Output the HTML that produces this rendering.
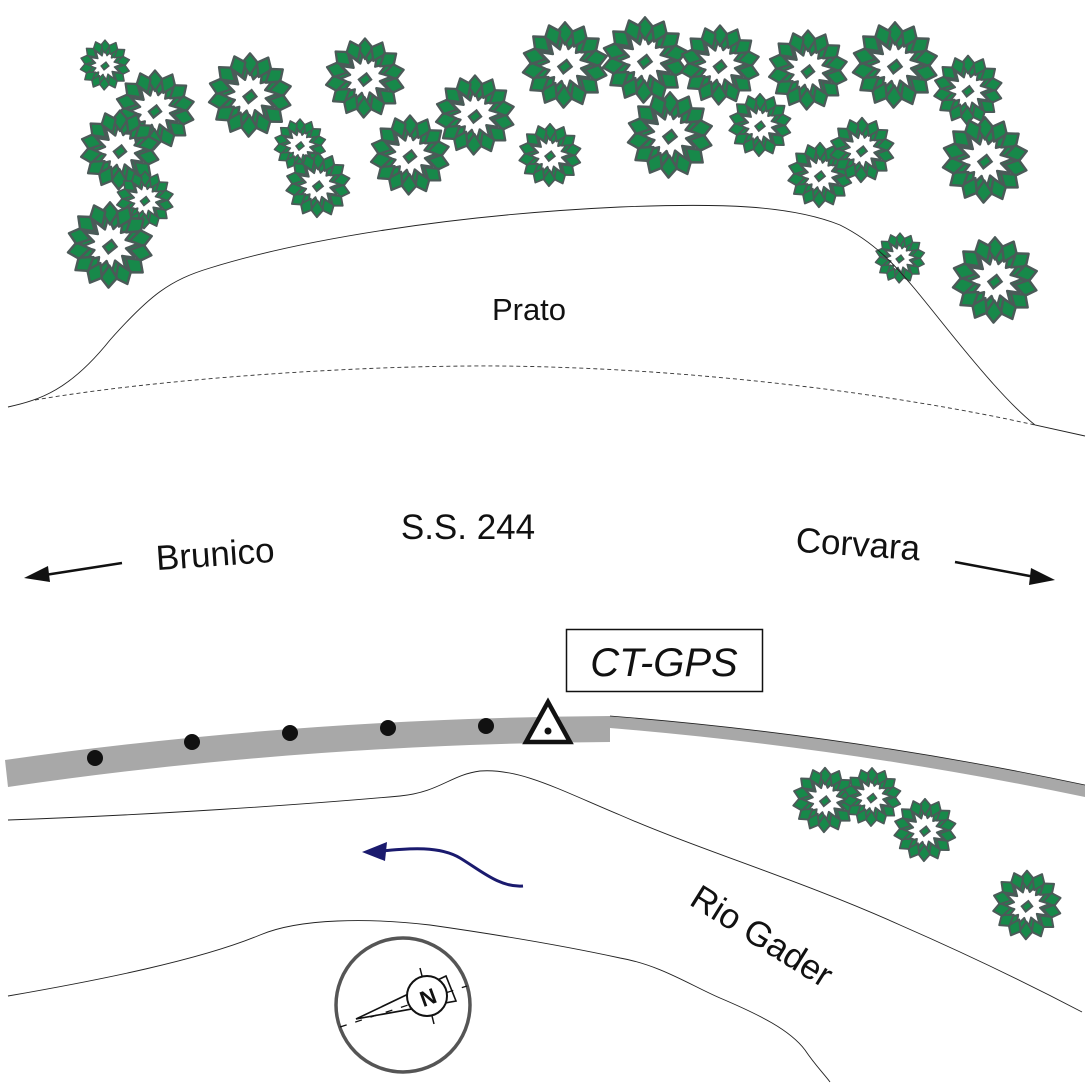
<!DOCTYPE html>
<html><head><meta charset="utf-8"><style>
html,body{margin:0;padding:0;background:#fff;}
svg{display:block;}
text{font-family:"Liberation Sans",sans-serif;fill:#111;}
</style></head><body>
<svg width="1086" height="1085" viewBox="0 0 1086 1085" xmlns="http://www.w3.org/2000/svg">
<defs>
<polygon id="lf" points="0,-52 10,-40 0,-25 -10,-40" fill="#17894a" stroke="#4b5a58" stroke-width="3" stroke-linejoin="round"/>
<polygon id="lf2" points="0,-42 8,-32 0,-20 -8,-32" fill="#17894a" stroke="#4b5a58" stroke-width="3" stroke-linejoin="round"/>
<g id="tree">
<use href="#lf2" transform="rotate(12)"/><use href="#lf2" transform="rotate(42)"/><use href="#lf2" transform="rotate(72)"/><use href="#lf2" transform="rotate(102)"/><use href="#lf2" transform="rotate(132)"/><use href="#lf2" transform="rotate(162)"/><use href="#lf2" transform="rotate(192)"/><use href="#lf2" transform="rotate(222)"/><use href="#lf2" transform="rotate(252)"/><use href="#lf2" transform="rotate(282)"/><use href="#lf2" transform="rotate(312)"/><use href="#lf2" transform="rotate(342)"/>
<use href="#lf" transform="rotate(0)"/><use href="#lf" transform="rotate(26)"/><use href="#lf" transform="rotate(52)"/><use href="#lf" transform="rotate(78)"/><use href="#lf" transform="rotate(104)"/><use href="#lf" transform="rotate(130)"/><use href="#lf" transform="rotate(156)"/><use href="#lf" transform="rotate(182)"/><use href="#lf" transform="rotate(208)"/><use href="#lf" transform="rotate(234)"/><use href="#lf" transform="rotate(260)"/><use href="#lf" transform="rotate(286)"/><use href="#lf" transform="rotate(312)"/><use href="#lf" transform="rotate(338)"/>
<polygon points="-8,2 2,-6 8,2 -2,10" fill="#17894a" stroke="#4b5a58" stroke-width="3"/>
</g>
</defs>

<g>
<use href="#tree" transform="translate(105,65) scale(0.48)"/>
<use href="#tree" transform="translate(155,110) scale(0.76)"/>
<use href="#tree" transform="translate(120,150) scale(0.76)"/>
<use href="#tree" transform="translate(145,200) scale(0.55)"/>
<use href="#tree" transform="translate(110,245) scale(0.82)"/>
<use href="#tree" transform="translate(250,95) scale(0.8)"/>
<use href="#tree" transform="translate(300,145) scale(0.5)"/>
<use href="#tree" transform="translate(318,185) scale(0.62)"/>
<use href="#tree" transform="translate(365,78) scale(0.76)"/>
<use href="#tree" transform="translate(410,155) scale(0.76)"/>
<use href="#tree" transform="translate(475,115) scale(0.76)"/>
<use href="#tree" transform="translate(565,65) scale(0.82)"/>
<use href="#tree" transform="translate(550,155) scale(0.6)"/>
<use href="#tree" transform="translate(645,60) scale(0.82)"/>
<use href="#tree" transform="translate(670,135) scale(0.82)"/>
<use href="#tree" transform="translate(720,65) scale(0.76)"/>
<use href="#tree" transform="translate(760,125) scale(0.6)"/>
<use href="#tree" transform="translate(808,70) scale(0.76)"/>
<use href="#tree" transform="translate(820,175) scale(0.62)"/>
<use href="#tree" transform="translate(862,150) scale(0.62)"/>
<use href="#tree" transform="translate(895,65) scale(0.82)"/>
<use href="#tree" transform="translate(968,90) scale(0.66)"/>
<use href="#tree" transform="translate(985,160) scale(0.82)"/>
<use href="#tree" transform="translate(900,258) scale(0.48)"/>
<use href="#tree" transform="translate(995,280) scale(0.82)"/>
<use href="#tree" transform="translate(825,800) scale(0.62)"/>
<use href="#tree" transform="translate(872,797) scale(0.56)"/>
<use href="#tree" transform="translate(925,830) scale(0.6)"/>
<use href="#tree" transform="translate(1027,905) scale(0.66)"/>
</g>

<path d="M8,407 C40,400 70,390 110,340 C150,295 170,280 210,268 C300,240 450,215 620,207 C720,203 790,205 840,225 C880,245 900,270 940,320 C980,370 1010,405 1035,425 L1085,436" fill="none" stroke="#222" stroke-width="0.9"/>
<path d="M35,400 C150,380 350,365 500,366 C700,368 900,395 1035,425" fill="none" stroke="#333" stroke-width="0.9" stroke-dasharray="4,3"/>
<text x="529" y="320" font-size="31" text-anchor="middle">Prato</text>

<text x="215" y="566" font-size="35" text-anchor="middle" transform="rotate(-4 215 552)">Brunico</text>
<text x="468" y="539" font-size="35" text-anchor="middle">S.S. 244</text>
<text x="858" y="556" font-size="35" text-anchor="middle" transform="rotate(4 858 545)">Corvara</text>
<line x1="122" y1="563" x2="45" y2="575" stroke="#111" stroke-width="2.5"/>
<polygon points="24,578 48,566 50,582" fill="#111"/>
<line x1="955" y1="562" x2="1035" y2="577" stroke="#111" stroke-width="2.5"/>
<polygon points="1055,580 1031,568 1029,585" fill="#111"/>

<path d="M5,760 Q300,718 610,716 L610,742 Q300,744 8,787 Z" fill="#a8a8a8"/>
<path d="M610,716 Q850,735 1085,785 L1085,797 Q850,748 610,728 Z" fill="#a8a8a8"/>
<path d="M610,716 Q850,735 1085,785" fill="none" stroke="#222" stroke-width="0.8"/>
<g fill="#111">
<circle cx="95" cy="758" r="8"/><circle cx="192" cy="742" r="8"/><circle cx="290" cy="733" r="8"/><circle cx="388" cy="728" r="8"/><circle cx="486" cy="726" r="8"/>
</g>
<polygon points="548,702 526,742 570,742" fill="#fff" stroke="#111" stroke-width="4.5" stroke-linejoin="miter"/>
<circle cx="548" cy="731" r="3.5" fill="#111"/>
<rect x="566.5" y="629.5" width="196" height="62" fill="#fff" stroke="#111" stroke-width="1.5"/>
<text x="664" y="676" font-size="40" font-style="italic" text-anchor="middle">CT-GPS</text>

<path d="M8,820 C150,815 300,805 400,796 C440,792 450,775 480,771 C520,768 560,790 620,815 C700,850 800,880 900,925 C980,960 1040,990 1082,1012" fill="none" stroke="#222" stroke-width="0.9"/>
<path d="M8,996 C100,980 200,960 260,935 C300,918 370,918 430,925 C500,935 560,945 620,958 C660,965 690,985 720,998 C760,1015 790,1030 805,1050 C815,1065 825,1075 830,1082" fill="none" stroke="#222" stroke-width="0.9"/>
<text x="762" y="948" font-size="35" text-anchor="middle" transform="rotate(32 762 936)">Rio Gader</text>
<path d="M523,886 C500,888 480,870 460,858 C440,846 410,848 382,851" fill="none" stroke="#1a1a6e" stroke-width="3"/>
<polygon points="362,852 387,842 385,861" fill="#1a1a6e"/>

<circle cx="403" cy="1005" r="67" fill="#fff" stroke="#555" stroke-width="3.5"/>
<line x1="340" y1="1027" x2="467" y2="986" stroke="#111" stroke-width="1.3" stroke-dasharray="7,9"/>
<polygon points="356,1019 446,976 456,1001" fill="none" stroke="#111" stroke-width="1.6"/>
<circle cx="427" cy="996" r="20" fill="#fff" stroke="#111" stroke-width="2"/>
<line x1="420" y1="968" x2="422" y2="976" stroke="#111" stroke-width="1.5"/>
<line x1="432" y1="1016" x2="434" y2="1024" stroke="#111" stroke-width="1.5"/>
<text x="428" y="1005" font-size="22" font-weight="bold" text-anchor="middle" transform="rotate(-20 428 997)">N</text>
</svg>
</body></html>
